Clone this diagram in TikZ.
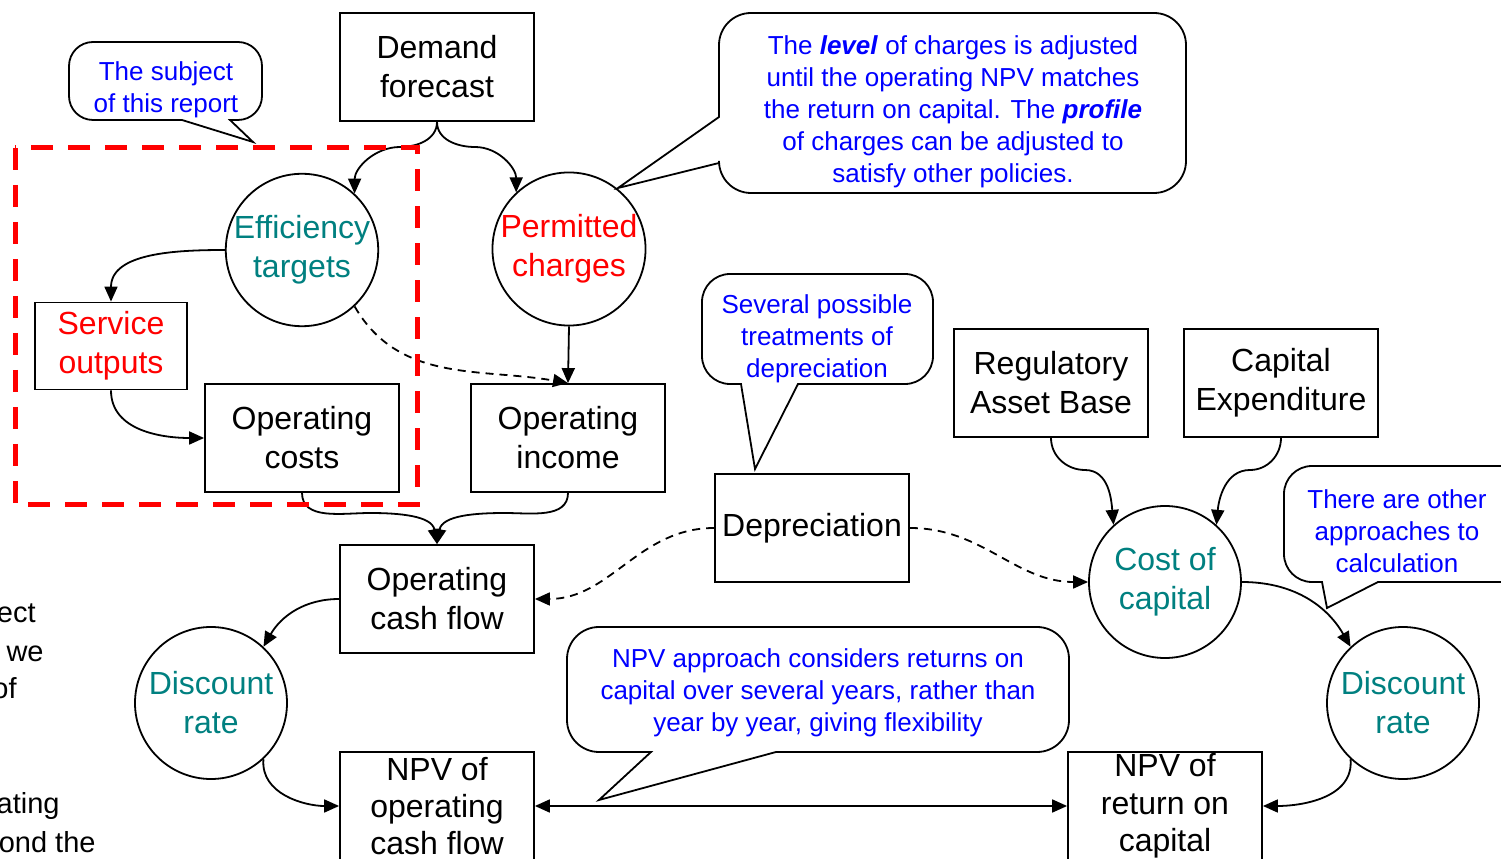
\documentclass[tikz,border=0pt]{standalone}
\usepackage{fontspec}
\setmainfont{Liberation Sans}
\usepackage{tikz}
\usetikzlibrary{arrows.meta,positioning}
\definecolor{tealtext}{HTML}{008080}
\definecolor{notetext}{HTML}{0000FF}
\definecolor{scopered}{HTML}{FF0000}
\newcommand{\bigtext}{\fontsize{16}{19.5}\selectfont}
\newcommand{\npvtext}{\fontsize{16}{18.7}\selectfont}
\newcommand{\notesize}{\fontsize{13}{16}\selectfont}
\newcommand{\fragsize}{\fontsize{14.5}{19.5}\selectfont}

\begin{document}
\begin{tikzpicture}[x=0.5pt,y=0.5pt,
  box/.style={draw,line width=0.9pt,minimum width=97pt,minimum height=54pt,inner sep=0pt,align=center,font=\bigtext},
  disc/.style={draw,circle,line width=0.9pt,minimum size=76pt,inner sep=0pt,align=center,font=\bigtext},
  note/.style={text=notetext,align=center,font=\notesize},
  frag/.style={anchor=base east,inner sep=0pt,font=\fragsize},
  callout/.style={draw,line width=0.9pt,fill=white},
  link/.style={line width=0.9pt,-{Triangle[length=7.5pt,width=6.5pt]}},
  dashlink/.style={link,dash pattern=on 4pt off 3pt},
  bothlink/.style={line width=0.9pt,{Triangle[length=7.5pt,width=6.5pt]}-{Triangle[length=7.5pt,width=6.5pt]}}]
\useasboundingbox (0,0) rectangle (1501,858);

% text cut off at the left edge
\node[frag] (frag1) at (36,235) {ect};
\node[frag] (frag2) at (44,196) {we};
\node[frag] (frag3) at (17,159) {of};
\node[frag] (frag4) at (60,45) {ating};
\node[frag] (frag5) at (96,6) {ond the};

% callouts
\draw[callout] (182,738) [rounded corners=12pt] -- (69,738) -- (69,816) -- (262,816) -- (262,738) [sharp corners] -- (230,738) -- (253,716) -- cycle;
\draw[callout] (719,741) [rounded corners=16pt] -- (719,845) -- (1186,845) -- (1186,665) -- (719,665) [sharp corners] -- (719,695) -- (618,670) -- cycle;
\draw[callout] (741,474) [rounded corners=14pt] -- (702,474) -- (702,584) -- (933,584) -- (933,474) [sharp corners] -- (798,474) -- (755,389) -- cycle;
\draw[callout] (1322,276) [rounded corners=14pt] -- (1284,276) -- (1284,392) -- (1530,392) -- (1530,276) [sharp corners] -- (1378,276) -- (1327,250) -- cycle;
\draw[callout] (651,106) [rounded corners=16pt] -- (567,106) -- (567,231) -- (1069,231) -- (1069,106) [sharp corners] -- (776,106) -- (599,58) -- cycle;

\node[note] (subjnote) at (166,768) {The subject\\of this report};
\node[note] (levelnote) at (953,746) {The \textbf{\textit{level}} of charges is adjusted\\until the operating NPV matches\\the return on capital. The \textbf{\textit{profile}}\\of charges can be adjusted to\\satisfy other policies.};
\node[note] (deprnote) at (817,519) {Several possible\\treatments of\\depreciation};
\node[note] (othernote) at (1397,327) {There are other\\approaches to\\calculation};
\node[note] (npvnote) at (818,165) {NPV approach considers returns on\\capital over several years, rather than\\year by year, giving flexibility};

% main nodes
\node[box] (demand) at (437,791) {Demand\\forecast};
\node[disc,text=tealtext] (eff) at (302,608) {Efficiency\\targets};
\node[disc,text=scopered] (perm) at (569,609) {Permitted\\charges};
\node[box,text=scopered,minimum width=76pt,minimum height=43.5pt] (service) at (111,512) {Service\\outputs};
\node[box] (opcost) at (302,420) {Operating\\costs};
\node[box] (opinc) at (568,420) {Operating\\income};
\node[box] (rab) at (1051,475) {Regulatory\\Asset Base};
\node[box] (capex) at (1281,475) {Capital\\Expenditure};
\node[box] (dep) at (812,330) {Depreciation};
\node[disc,text=tealtext] (coc) at (1165,276) {Cost of\\capital};
\node[box] (ocf) at (437,259) {Operating\\cash flow};
\node[disc,text=tealtext] (rateL) at (211,155) {Discount\\rate};
\node[disc,text=tealtext] (rateR) at (1403,155) {Discount\\rate};
\node[box,font=\npvtext] (npvop) at (437,52) {NPV of\\operating\\cash flow};
\node[box,font=\npvtext] (npvcap) at (1165,52) {NPV of\\return on\\capital};

% connectors
\draw[link] (demand.south) to[out=-90,in=0] (400,711) to[out=180,in=90] (eff.47);
\draw[link] (demand.south) to[out=-90,in=180] (475,711) to[out=0,in=90] (perm.133);
\draw[link] (eff.west) to[out=180,in=90] (service.north);
\draw[link] (service.south) to[out=-90,in=180] (opcost.west);
\draw[dashlink] (eff.-47) to[out=-60,in=170] (opinc.north);
\draw[link] (perm.south) -- (opinc.north);
\draw[link] (opcost.south) to[out=-90,in=180] (370,345) to[out=0,in=100] (ocf.north);
\draw[link] (opinc.south) to[out=-90,in=0] (505,345) to[out=180,in=80] (ocf.north);
\draw[dashlink] (dep.west) to[out=180,in=0] (ocf.east);
\draw[dashlink] (dep.east) to[out=0,in=180] (coc.west);
\draw[link] (rab.south) to[out=-90,in=180] (1085,388) to[out=0,in=95] (coc.132);
\draw[link] (capex.south) to[out=-90,in=0] (1250,388) to[out=180,in=85] (coc.48);
\draw[link] (coc.east) to[out=0,in=120] (rateR.133);
\draw[link] (ocf.west) to[out=180,in=60] (rateL.47);
\draw[link] (rateL.-47) to[out=-95,in=180] (npvop.west);
\draw[link] (rateR.-133) to[out=-85,in=0] (npvcap.east);
\draw[bothlink] (npvop.east) -- (npvcap.west);

% scope of the report
\draw[scopered,line width=2.5pt,dash pattern=on 11pt off 7.5pt] (15,710) rectangle (417,353);
\end{tikzpicture}
\end{document}
